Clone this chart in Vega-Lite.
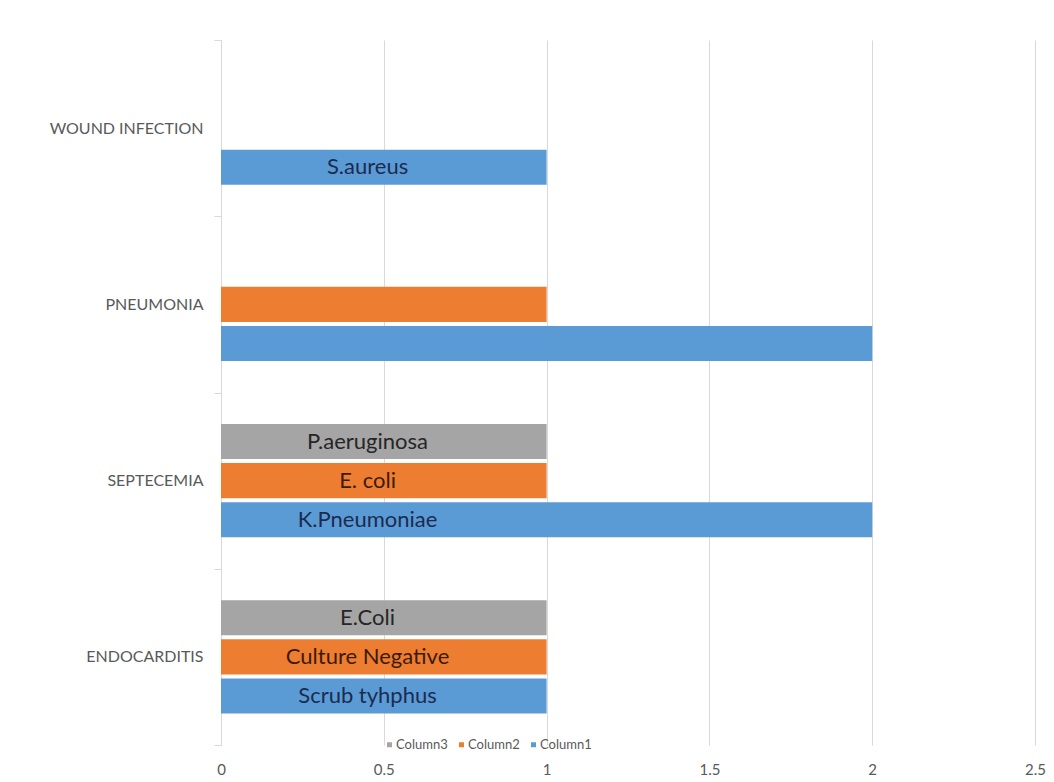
{
  "$schema": "https://vega.github.io/schema/vega-lite/v6.json",
  "autosize": {"type": "none"},
  "padding": {"left": 221, "top": 40, "right": 19, "bottom": 37},
  "width": 814,
  "height": 705,
  "background": "#ffffff",
  "config": {
    "view": {"stroke": null},
    "font": "Lato"
  },
  "data": {
    "values": [
      {"condition": "ENDOCARDITIS", "series": "Column1", "count": 1, "organism": "Scrub tyhphus"},
      {"condition": "ENDOCARDITIS", "series": "Column2", "count": 1, "organism": "Culture Negative"},
      {"condition": "ENDOCARDITIS", "series": "Column3", "count": 1, "organism": "E.Coli"},
      {"condition": "SEPTECEMIA", "series": "Column1", "count": 2, "organism": "K.Pneumoniae"},
      {"condition": "SEPTECEMIA", "series": "Column2", "count": 1, "organism": "E. coli"},
      {"condition": "SEPTECEMIA", "series": "Column3", "count": 1, "organism": "P.aeruginosa"},
      {"condition": "PNEUMONIA", "series": "Column1", "count": 2, "organism": ""},
      {"condition": "PNEUMONIA", "series": "Column2", "count": 1, "organism": ""},
      {"condition": "WOUND INFECTION", "series": "Column1", "count": 1, "organism": "S.aureus"}
    ]
  },
  "encoding": {
    "y": {
      "field": "condition",
      "type": "nominal",
      "title": null,
      "scale": {
        "domain": ["WOUND INFECTION", "PNEUMONIA", "SEPTECEMIA", "ENDOCARDITIS"],
        "paddingInner": 0,
        "paddingOuter": 0
      },
      "axis": {
        "domainColor": "#d9d9d9",
        "tickColor": "#d9d9d9",
        "tickSize": 7,
        "tickBand": "extent",
        "labelPadding": 11,
        "labelFontSize": 16,
        "labelColor": "#595959",
        "labelFont": "Lato",
        "grid": false
      }
    },
    "yOffset": {
      "field": "series",
      "type": "nominal",
      "scale": {
        "domain": ["Column3", "Column2", "Column1"],
        "paddingInner": 0.103,
        "paddingOuter": 0.81
      }
    }
  },
  "layer": [
    {
      "mark": {"type": "bar"},
      "encoding": {
        "x": {
          "field": "count",
          "type": "quantitative",
          "title": null,
          "scale": {"domain": [0, 2.5], "nice": false},
          "axis": {
            "values": [0, 0.5, 1, 1.5, 2, 2.5],
            "format": "~g",
            "grid": true,
            "gridColor": "#d9d9d9",
            "domain": false,
            "ticks": false,
            "labelFlush": false,
            "labelPadding": 17,
            "labelFontSize": 15,
            "labelColor": "#595959",
            "labelFont": "Lato"
          }
        },
        "color": {
          "field": "series",
          "type": "nominal",
          "scale": {
            "domain": ["Column3", "Column2", "Column1"],
            "range": ["#a5a5a5", "#ed7d31", "#5b9bd5"]
          },
          "legend": {
            "title": null,
            "orient": "none",
            "direction": "horizontal",
            "legendX": 162,
            "legendY": 698,
            "symbolType": "square",
            "symbolSize": 25,
            "symbolStrokeWidth": 0,
            "labelFontSize": 13,
            "labelColor": "#595959",
            "labelFont": "Lato",
            "labelOffset": 0,
            "columnPadding": 7
          }
        }
      }
    },
    {
      "transform": [{"filter": "datum.organism !== ''"}],
      "mark": {"type": "text", "fontSize": 22, "font": "Lato", "align": "center", "baseline": "middle"},
      "encoding": {
        "x": {"datum": 0.45, "type": "quantitative"},
        "text": {"field": "organism"},
        "color": {
          "condition": [
            {"test": "datum.series === 'Column1'", "value": "#1b2b50"},
            {"test": "datum.series === 'Column2'", "value": "#3d1a08"}
          ],
          "value": "#262626"
        }
      }
    }
  ]
}
